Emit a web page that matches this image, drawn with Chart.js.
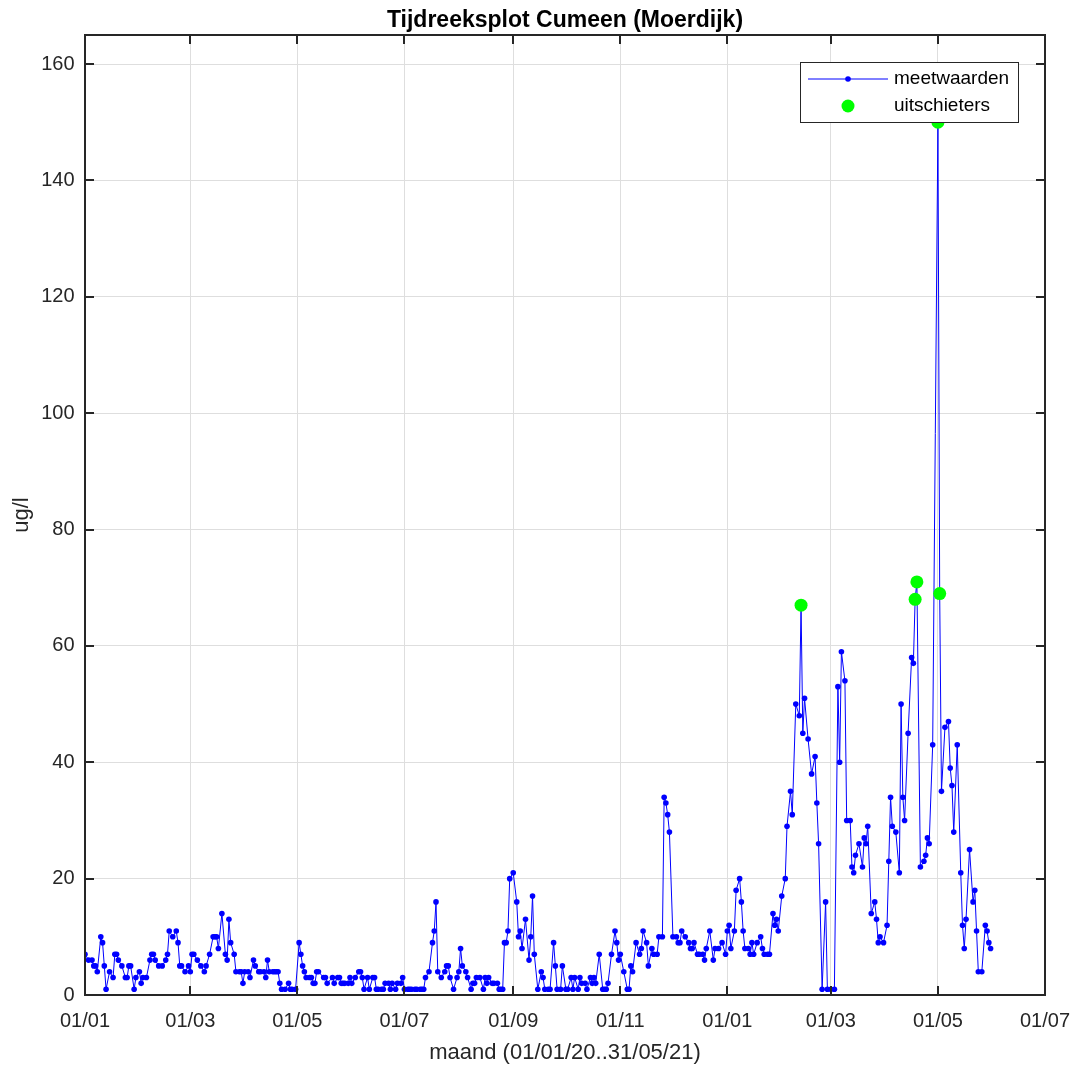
<!DOCTYPE html>
<html>
<head>
<meta charset="utf-8">
<script src="https://cdn.jsdelivr.net/npm/chart.js@4.4.1/dist/chart.umd.min.js"></script>
<style>
  html, body { margin: 0; padding: 0; background: #fff; }
  canvas { display: block; }
</style>
</head>
<body>
<canvas id="tijdreeks" width="1076" height="1067"></canvas>
<script>
// dagen sinds 01/01/2020, met de gemeten waarde (ug/l)
var dagen = [
    0, 2, 4, 5, 6, 7, 9, 10, 11, 12, 14, 16, 17, 18, 19, 21, 23, 24, 25, 26, 28, 29, 31, 32, 33, 35, 37, 38, 39, 40, 42, 44, 46, 47, 48, 50, 52, 53, 54, 55, 57, 59,
    60, 61, 62, 64, 66, 68, 69, 71, 73, 74, 75, 76, 78, 80, 81, 82, 83, 85, 86, 88, 89, 90, 91, 93, 94, 96, 97, 99, 100, 102, 103, 104, 105, 107, 108, 109, 110, 111, 112, 114, 116, 117, 118, 120,
    122, 123, 124, 125, 126, 128, 129, 130, 131, 132, 133, 136, 137, 138, 141, 142, 144, 145, 146, 147, 148, 150, 151, 152, 154, 156, 157, 158, 159, 161, 162, 164, 165, 166, 167, 169, 170, 171, 173, 174, 175, 177, 178, 180, 181,
    182, 184, 185, 186, 188, 189, 191, 192, 193, 194, 196, 198, 199, 200, 201, 203, 205, 206, 207, 208, 210, 212, 213, 214, 215, 217, 218, 220, 221, 222, 223, 225, 227, 228, 229, 230, 232, 233, 235, 236, 237, 238, 239, 240, 241, 242,
    244, 246, 247, 248, 249, 251, 253, 254, 255, 256, 258, 260, 261, 262, 264, 265, 267, 268, 269, 271, 272, 274, 275, 277, 278, 279, 281, 282, 283, 285, 286, 288, 289, 290, 291, 293, 295, 296, 297, 298, 300, 302, 303, 304,
    305, 307, 309, 310, 311, 312, 314, 316, 317, 318, 320, 321, 323, 324, 326, 327, 329, 330, 331, 332, 333, 335, 337, 338, 339, 340, 342, 344, 345, 346, 347, 349, 350, 352, 353, 354, 356, 358, 359, 361, 363, 365,
    366, 367, 368, 370, 371, 373, 374, 375, 376, 378, 379, 380, 381, 383, 385, 386, 387, 389, 390, 392, 393, 394, 395, 397, 399, 400, 402, 403, 405, 407, 408, 409, 410, 412, 414, 416, 417, 418, 420, 422, 423,
    425, 427, 429, 430, 431, 433, 434, 436, 437, 438, 439, 441, 443, 444, 445, 446, 448, 450, 451, 452, 453, 455, 457, 458, 459, 460, 462, 464, 465, 466, 467, 469, 471, 472, 473, 474, 476, 478, 479, 480, 481, 483, 486,
    487, 488, 490, 492, 493, 494, 495, 497, 499, 500, 501, 502, 504, 506, 507, 508, 509, 511, 513, 514, 515, 516
];
var waarden = [
    7, 6, 6, 5, 5, 4, 10, 9, 5, 1, 4, 3, 7, 7, 6, 5, 3, 3, 5, 5, 1, 3, 4, 2, 3, 3, 6, 7, 7, 6, 5, 5, 6, 7, 11, 10, 11, 9, 5, 5, 4, 5,
    4, 7, 7, 6, 5, 4, 5, 7, 10, 10, 10, 8, 14, 7, 6, 13, 9, 7, 4, 4, 4, 2, 4, 4, 3, 6, 5, 4, 4, 4, 3, 6, 4, 4, 4, 4, 4, 2, 1, 1, 2, 1, 1, 1,
    9, 7, 5, 4, 3, 3, 3, 2, 2, 4, 4, 3, 3, 2, 3, 2, 3, 3, 2, 2, 2, 2, 3, 2, 3, 4, 4, 3, 1, 3, 1, 3, 3, 1, 1, 1, 1, 2, 2, 1, 2, 1, 2, 2, 3,
    1, 1, 1, 1, 1, 1, 1, 1, 1, 3, 4, 9, 11, 16, 4, 3, 4, 5, 5, 3, 1, 3, 4, 8, 5, 4, 3, 1, 2, 2, 3, 3, 1, 3, 2, 3, 2, 2, 2, 1, 1, 1, 9, 9, 11, 20,
    21, 16, 10, 11, 8, 13, 6, 10, 17, 7, 1, 4, 3, 1, 1, 1, 9, 5, 1, 1, 5, 1, 1, 3, 1, 3, 1, 3, 2, 2, 1, 3, 2, 3, 2, 7, 1, 1, 1, 2, 7, 11, 9, 6,
    7, 4, 1, 1, 5, 4, 9, 7, 8, 11, 9, 5, 8, 7, 7, 10, 10, 34, 33, 31, 28, 10, 10, 9, 9, 11, 10, 9, 8, 8, 9, 7, 7, 7, 6, 8, 11, 6, 8, 8, 9, 7,
    11, 12, 8, 11, 18, 20, 16, 11, 8, 8, 7, 9, 7, 9, 10, 8, 7, 7, 7, 14, 12, 13, 11, 17, 20, 29, 35, 31, 50, 48, 67, 45, 51, 44, 38, 41, 33, 26, 1, 16, 1,
    1, 1, 53, 40, 59, 54, 30, 30, 22, 21, 24, 26, 22, 27, 26, 29, 14, 16, 13, 9, 10, 9, 12, 23, 34, 29, 28, 21, 50, 34, 30, 45, 58, 57, 68, 71, 22, 23, 24, 27, 26, 43, 150,
    69, 35, 46, 47, 39, 36, 28, 43, 21, 12, 8, 13, 25, 16, 18, 11, 4, 4, 12, 11, 9, 8
];
var uitschieterDagen = [408, 473, 474, 486, 487];
var uitschieterWaarden = [67, 68, 71, 150, 69];

var maandTicks = [0, 60, 121, 182, 244, 305, 366, 425, 486, 547];
var maandLabels = ["01/01", "01/03", "01/05", "01/07", "01/09", "01/11", "01/01", "01/03", "01/05", "01/07"];
var ugTicks = [0, 20, 40, 60, 80, 100, 120, 140, 160];

var lettertype = "'Liberation Sans', Arial, sans-serif";
var donker = "#262626";

// kader met naar binnen gerichte streepjes, zoals in matlab
var kader = {
    id: "kader",
    afterDraw: function (chart) {
        var ctx = chart.ctx;
        var a = chart.chartArea;
        var len = 9;
        ctx.save();
        ctx.strokeStyle = donker;
        ctx.lineWidth = 2;
        ctx.beginPath();
        chart.scales.x.ticks.forEach(function (t) {
            var px = Math.round(chart.scales.x.getPixelForValue(t.value));
            ctx.moveTo(px, a.bottom);
            ctx.lineTo(px, a.bottom - len);
            ctx.moveTo(px, a.top);
            ctx.lineTo(px, a.top + len);
        });
        chart.scales.y.ticks.forEach(function (t) {
            var py = Math.round(chart.scales.y.getPixelForValue(t.value));
            ctx.moveTo(a.left, py);
            ctx.lineTo(a.left + len, py);
            ctx.moveTo(a.right, py);
            ctx.lineTo(a.right - len, py);
        });
        ctx.stroke();
        ctx.strokeRect(a.left, a.top, a.right - a.left, a.bottom - a.top);
        ctx.restore();
    }
};

var legende = {
    id: "legende",
    afterDraw: function (chart) {
        var ctx = chart.ctx;
        var a = chart.chartArea;
        var w = 218, h = 60;
        var x = a.right - 27 - w;
        var y = a.top + 27;
        var sets = chart.data.datasets;
        ctx.save();
        ctx.fillStyle = "#fff";
        ctx.fillRect(x, y, w, h);
        ctx.strokeStyle = donker;
        ctx.lineWidth = 1;
        ctx.strokeRect(x + 0.5, y + 0.5, w, h);

        var r1 = y + 17, r2 = y + 44;
        ctx.strokeStyle = sets[0].borderColor;
        ctx.beginPath();
        ctx.moveTo(x + 8, r1);
        ctx.lineTo(x + 88, r1);
        ctx.stroke();
        ctx.fillStyle = sets[0].backgroundColor;
        ctx.beginPath();
        ctx.arc(x + 48, r1, 2.8, 0, Math.PI * 2);
        ctx.fill();
        ctx.fillStyle = sets[1].backgroundColor;
        ctx.beginPath();
        ctx.arc(x + 48, r2, 6.5, 0, Math.PI * 2);
        ctx.fill();

        ctx.fillStyle = "#000";
        ctx.font = "19px " + lettertype;
        ctx.textBaseline = "middle";
        ctx.fillText(sets[0].label, x + 94, r1);
        ctx.fillText(sets[1].label, x + 94, r2);
        ctx.restore();
    }
};

var ctx = document.getElementById("tijdreeks").getContext("2d");
new Chart(ctx, {
    type: "line",
    data: {
        datasets: [
            {
                label: "meetwaarden",
                data: dagen.map(function (d, i) { return { x: d, y: waarden[i] }; }),
                borderColor: "#0000ff",
                backgroundColor: "#0000ff",
                borderWidth: 1,
                pointRadius: 2.8,
                pointBorderWidth: 0,
                tension: 0,
                order: 1
            },
            {
                label: "uitschieters",
                data: uitschieterDagen.map(function (d, i) { return { x: d, y: uitschieterWaarden[i] }; }),
                showLine: false,
                borderColor: "#00ff00",
                backgroundColor: "#00ff00",
                pointRadius: 6.5,
                pointBorderWidth: 0,
                order: 0
            }
        ]
    },
    options: {
        responsive: false,
        animation: false,
        devicePixelRatio: 1,
        layout: { padding: { top: 0, right: 31, bottom: 0, left: 0 } },
        plugins: {
            legend: { display: false },
            tooltip: { enabled: false },
            title: {
                display: true,
                fullSize: false,
                text: "Tijdreeksplot Cumeen (Moerdijk)",
                color: "#000",
                font: { family: lettertype, size: 23, weight: "bold", lineHeight: 1.2 },
                padding: { top: 6.5, bottom: 0.9 }
            }
        },
        scales: {
            x: {
                type: "linear",
                min: 0,
                max: 547,
                afterBuildTicks: function (scale) {
                    scale.ticks = maandTicks.map(function (v) { return { value: v }; });
                },
                afterFit: function (scale) {
                    scale.height = 72;
                    scale.paddingLeft = 0;
                    scale.paddingRight = 0;
                },
                ticks: {
                    autoSkip: false,
                    maxRotation: 0,
                    color: donker,
                    padding: 14,
                    font: { family: lettertype, size: 20 },
                    callback: function (v) { return maandLabels[maandTicks.indexOf(v)]; }
                },
                grid: { color: "#dedede", drawTicks: false },
                border: { display: false },
                title: {
                    display: true,
                    text: "maand (01/01/20..31/05/21)",
                    color: donker,
                    font: { family: lettertype, size: 22 },
                    padding: { top: 0, bottom: 1 }
                }
            },
            y: {
                min: 0,
                max: 165,
                afterBuildTicks: function (scale) {
                    scale.ticks = ugTicks.map(function (v) { return { value: v }; });
                },
                afterFit: function (scale) {
                    scale.width = 85;
                    scale.paddingTop = 0;
                    scale.paddingBottom = 0;
                },
                ticks: {
                    color: donker,
                    padding: 10.5,
                    font: { family: lettertype, size: 20 }
                },
                grid: { color: "#dedede", drawTicks: false },
                border: { display: false },
                title: {
                    display: true,
                    text: "ug/l",
                    color: donker,
                    font: { family: lettertype, size: 22 },
                    padding: { top: 9, bottom: 0 }
                }
            }
        }
    },
    plugins: [kader, legende]
});
</script>
</body>
</html>
